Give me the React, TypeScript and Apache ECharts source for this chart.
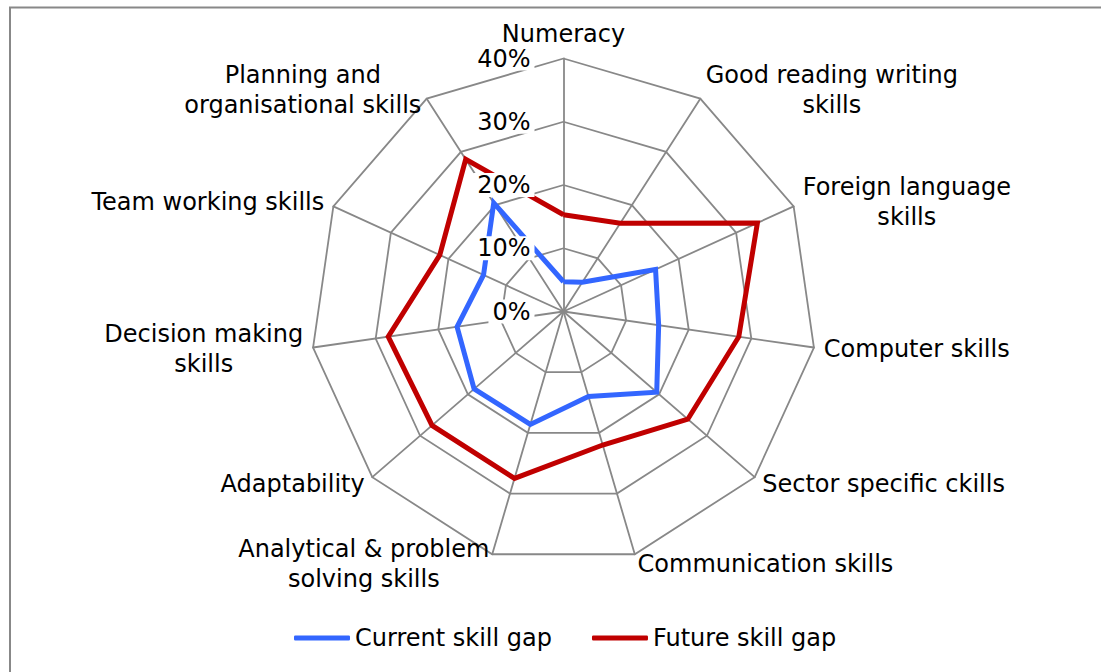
import React, { useEffect, useRef } from "react";
import * as echarts from "echarts";

// Skills in clockwise order, starting at the top
const skills = [
  "Numeracy",
  "Good reading writing\nskills",
  "Foreign language\nskills",
  "Computer skills",
  "Sector specific ckills",
  "Communication skills",
  "Analytical & problem\nsolving skills",
  "Adaptability",
  "Decision making\nskills",
  "Team working skills",
  "Planning and\norganisational skills",
];
const currentGap = [4.7, 5.5, 16, 15.2, 19.5, 14, 18.6, 18.7, 17, 13.9, 20.4];
const futureGap = [15.3, 16.6, 33.7, 28, 26, 22, 27.5, 27.5, 28, 21.5, 28.6];
const tickValues = [0, 10, 20, 30, 40];
const seriesNames = ["Current skill gap", "Future skill gap"];
const seriesColors = ["#3366FF", "#C00000"];

const FONT = "'DejaVu Sans', Verdana, sans-serif";
const FS = 24;

// ECharts places radar indicators counter-clockwise; reorder to get clockwise
const order = skills.map((_, i) => (i === 0 ? 0 : skills.length - i));
function reorder<T>(arr: T[]): T[] {
  return order.map((i) => arr[i]);
}

export default function App() {
  const ref = useRef<HTMLDivElement>(null);
  useEffect(() => {
    if (!ref.current) return;
    const chart = echarts.init(ref.current, undefined, { renderer: "svg" });
    const axisMax = tickValues[tickValues.length - 1];
    const splitNumber = tickValues.length - 1;
    const indicatorBase = reorder(skills).map((name) => ({ name, min: 0, max: axisMax }));
    const center = [563.5, 311.5];
    const radius = 253;
    const seriesValues = [currentGap, futureGap];

    chart.setOption({
      animation: false,
      backgroundColor: "#fff",
      graphic: [
        {
          type: "rect",
          silent: true,
          shape: { x: 10, y: 7.5, width: 1200, height: 800 },
          style: { fill: "none", stroke: "#888", lineWidth: 2 },
        },
      ],
      legend: {
        data: seriesNames,
        left: 289,
        top: 621,
        itemWidth: 56,
        itemHeight: 5,
        itemGap: 40,
        icon: "roundRect",
        textStyle: { fontFamily: FONT, fontSize: FS, color: "#000" },
      },
      radar: [
        {
          center,
          radius,
          startAngle: 90,
          shape: "polygon",
          splitNumber,
          indicator: indicatorBase,
          nameGap: 10,
          axisName: {
            color: "#000",
            fontFamily: FONT,
            fontSize: FS,
            formatter: (v: string) =>
              v
                .split("\n")
                .map((l) => `{c|${l}}`)
                .join("\n"),
            rich: {
              c: { align: "center", fontFamily: FONT, fontSize: FS, lineHeight: 30, color: "#000" },
            },
          },
          axisLine: { lineStyle: { color: "#888", width: 1.8 } },
          splitLine: { lineStyle: { color: "#888", width: 1.8 } },
          splitArea: { show: false },
          axisTick: { show: false },
          axisLabel: { show: false },
          z: 0,
        },
        {
          center,
          radius,
          startAngle: 90,
          shape: "polygon",
          splitNumber,
          indicator: indicatorBase.map((d, i) => ({ ...d, axisLabel: { show: i === 0 } })),
          axisName: { show: false },
          axisLine: { show: false },
          splitLine: { show: false },
          splitArea: { show: false },
          axisTick: { show: false },
          axisLabel: {
            show: false,
            formatter: "{value}%",
            color: "#000",
            fontFamily: FONT,
            fontSize: FS,
            backgroundColor: "#fff",
            padding: [0, 4],
            margin: 29,
          },
          z: 10,
        },
      ],
      series: [
        {
          type: "radar",
          radarIndex: 0,
          symbol: "none",
          silent: true,
          data: seriesNames.map((name, k) => ({
            name,
            value: reorder(seriesValues[k]),
            lineStyle: { color: seriesColors[k], width: 5, join: "miter" },
            itemStyle: { color: seriesColors[k] },
          })),
        },
      ],
    });
    return () => chart.dispose();
  }, []);
  return (
    <div
      ref={ref}
      style={{ position: "absolute", left: 0, top: 0, width: 1101, height: 672 }}
    />
  );
}
